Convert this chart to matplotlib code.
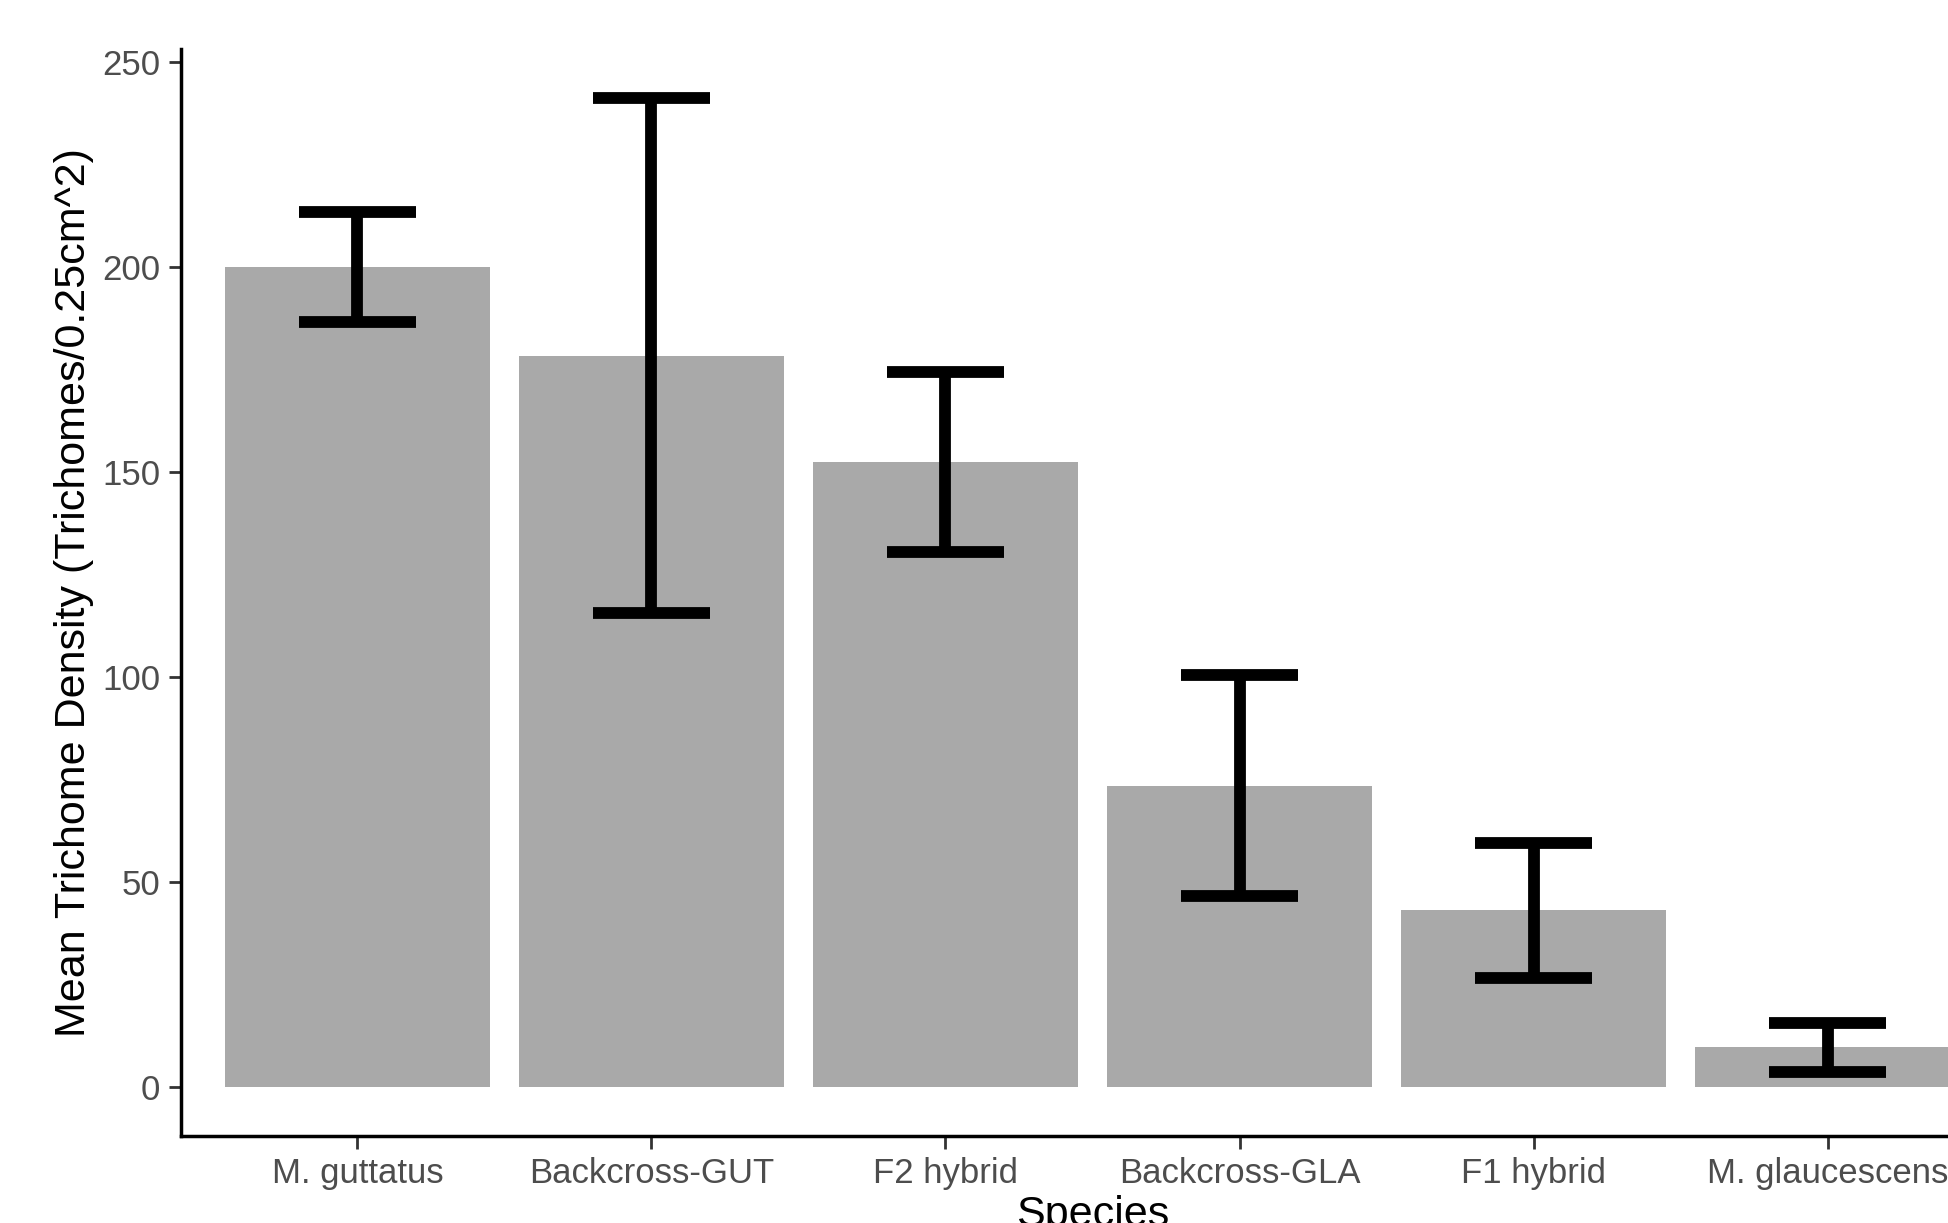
import matplotlib.pyplot as plt
import numpy as np

plt.rcParams['font.family'] = ['Liberation Sans', 'DejaVu Sans']

species = ["M. guttatus", "Backcross-GUT", "F2 hybrid", "Backcross-GLA", "F1 hybrid", "M. glaucescens"]
mean_density = [200.0, 178.3, 152.4, 73.4, 43.0, 9.6]
se_density = [13.5, 62.8, 21.9, 27.0, 16.4, 6.0]

W, H = 1948, 1223
fig = plt.figure(figsize=(W / 100, H / 100), dpi=100)
# the original picture is cropped on the right, so the panel runs past the edge
ax = fig.add_axes([181 / W, (H - 1136) / H, (2004 - 181) / W, (1136 - 49) / H])

x = np.arange(1, len(species) + 1)
ax.bar(x, mean_density, width=0.9, color="#a9a9a9", zorder=1)
ax.errorbar(x, mean_density, yerr=se_density, fmt="none", ecolor="black",
            elinewidth=8.5, capsize=0, zorder=2)
# caps drawn as short horizontal segments (width 0.4 like geom_errorbar)
lo = np.array(mean_density) - np.array(se_density)
hi = np.array(mean_density) + np.array(se_density)
ax.hlines(lo, x - 0.2, x + 0.2, color="black", linewidth=8.5, zorder=3)
ax.hlines(hi, x - 0.2, x + 0.2, color="black", linewidth=8.5, zorder=3)

ymax = hi.max()
ax.set_ylim(-0.05 * ymax, ymax * 1.05)
ax.set_xlim(0.4, len(species) + 0.6)

ax.set_yticks([0, 50, 100, 150, 200, 250])
ax.set_xticks(x)
ax.set_xticklabels(species)
ax.tick_params(axis="both", labelsize=25, labelcolor="#4d4d4d", color="#333333",
               length=9, width=2)
ax.tick_params(axis="y", pad=6)
ax.tick_params(axis="x", pad=6)

for side in ["top", "right"]:
    ax.spines[side].set_visible(False)
for side in ["left", "bottom"]:
    ax.spines[side].set_linewidth(2.5)
    ax.spines[side].set_color("black")

ax.set_ylabel("Mean Trichome Density (Trichomes/0.25cm^2)", fontsize=31, labelpad=6)
ax.set_xlabel("Species", fontsize=31, labelpad=4)

fig.savefig("out.png", dpi=100)
